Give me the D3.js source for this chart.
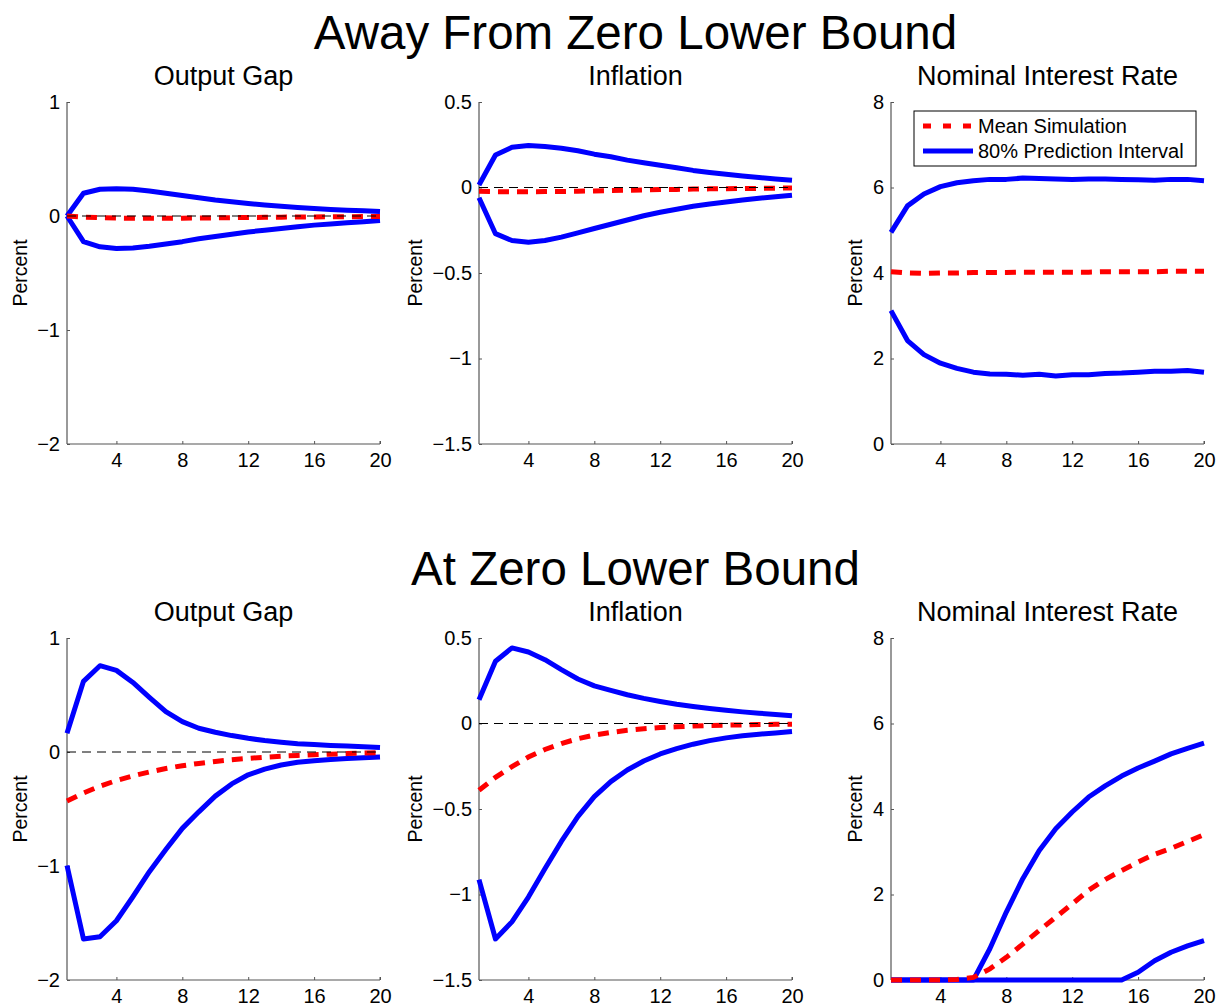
<!DOCTYPE html>
<html>
<head>
<meta charset="utf-8">
<script src="https://cdn.jsdelivr.net/npm/d3@7/dist/d3.min.js"></script>
<style>
  body { margin: 0; background: #fff; }
  svg { display: block; font-family: "Liberation Sans", Arial, Helvetica, sans-serif; }
</style>
</head>
<body>
<svg id="chart" width="1218" height="1007"></svg>
<script>
// ---------------- DATA ----------------
const periods = [1,2,3,4,5,6,7,8,9,10,11,12,13,14,15,16,17,18,19,20];
const xTickValues = [4, 8, 12, 16, 20];
const rowTitles = ["Away From Zero Lower Bound", "At Zero Lower Bound"];
const panelTitles = ["Output Gap", "Inflation", "Nominal Interest Rate"];
const yAxisLabel = "Percent";
const legendLabels = ["Mean Simulation", "80% Prediction Interval"];

const outputGapTicks = [-2, -1, 0, 1];
const inflationTicks = [-1.5, -1, -0.5, 0, 0.5];
const interestTicks = [0, 2, 4, 6, 8];

// Away from ZLB
const awayOutputMean  = [0, -0.01, -0.015, -0.018, -0.02, -0.02, -0.02, -0.019, -0.018, -0.016, -0.015, -0.013, -0.012, -0.01, -0.009, -0.008, -0.007, -0.006, -0.005, -0.004];
const awayOutputUpper = [0, 0.20, 0.235, 0.24, 0.235, 0.22, 0.20, 0.18, 0.16, 0.14, 0.125, 0.11, 0.097, 0.085, 0.075, 0.066, 0.058, 0.051, 0.045, 0.04];
const awayOutputLower = [0, -0.225, -0.27, -0.285, -0.28, -0.265, -0.245, -0.225, -0.2, -0.18, -0.16, -0.14, -0.125, -0.11, -0.095, -0.08, -0.07, -0.06, -0.05, -0.04];

const awayInflMean  = [-0.022, -0.024, -0.025, -0.025, -0.024, -0.023, -0.022, -0.02, -0.018, -0.016, -0.014, -0.012, -0.011, -0.009, -0.008, -0.007, -0.006, -0.005, -0.004, -0.003];
const awayInflUpper = [0.015, 0.19, 0.235, 0.245, 0.24, 0.23, 0.215, 0.195, 0.18, 0.16, 0.145, 0.13, 0.115, 0.1, 0.088, 0.077, 0.067, 0.058, 0.05, 0.043];
const awayInflLower = [-0.06, -0.27, -0.31, -0.32, -0.31, -0.29, -0.265, -0.24, -0.215, -0.19, -0.165, -0.145, -0.127, -0.11, -0.097, -0.085, -0.073, -0.063, -0.054, -0.045];

const awayRateMean  = [4.03, 4.0, 3.99, 4.0, 4.0, 4.01, 4.01, 4.01, 4.02, 4.02, 4.02, 4.02, 4.02, 4.03, 4.03, 4.03, 4.03, 4.04, 4.04, 4.04];
const awayRateUpper = [4.95, 5.57, 5.85, 6.02, 6.11, 6.16, 6.19, 6.19, 6.22, 6.21, 6.2, 6.19, 6.2, 6.2, 6.19, 6.18, 6.17, 6.19, 6.19, 6.16];
const awayRateLower = [3.12, 2.42, 2.09, 1.89, 1.77, 1.68, 1.64, 1.63, 1.61, 1.63, 1.59, 1.62, 1.62, 1.65, 1.66, 1.68, 1.70, 1.70, 1.72, 1.68];

// At ZLB
const zlbOutputMean  = [-0.43, -0.36, -0.30, -0.25, -0.21, -0.175, -0.145, -0.12, -0.1, -0.083, -0.068, -0.056, -0.046, -0.037, -0.03, -0.024, -0.019, -0.014, -0.01, -0.006];
const zlbOutputUpper = [0.165, 0.62, 0.757, 0.716, 0.61, 0.48, 0.355, 0.267, 0.208, 0.173, 0.144, 0.12, 0.1, 0.085, 0.073, 0.065, 0.058, 0.053, 0.047, 0.04];
const zlbOutputLower = [-0.995, -1.64, -1.62, -1.48, -1.27, -1.05, -0.856, -0.67, -0.525, -0.387, -0.28, -0.2, -0.15, -0.114, -0.09, -0.076, -0.065, -0.056, -0.05, -0.044];

const zlbInflMean  = [-0.39, -0.315, -0.252, -0.196, -0.152, -0.117, -0.089, -0.068, -0.052, -0.04, -0.031, -0.024, -0.019, -0.015, -0.012, -0.01, -0.008, -0.006, -0.005, -0.004];
const zlbInflUpper = [0.139, 0.364, 0.442, 0.418, 0.373, 0.315, 0.26, 0.22, 0.194, 0.168, 0.147, 0.129, 0.113, 0.1, 0.088, 0.078, 0.068, 0.06, 0.053, 0.045];
const zlbInflLower = [-0.913, -1.26, -1.16, -1.015, -0.85, -0.69, -0.545, -0.428, -0.34, -0.272, -0.219, -0.178, -0.147, -0.121, -0.1, -0.084, -0.072, -0.063, -0.055, -0.047];

const zlbRateMean  = [0, 0, 0, 0, 0.01, 0.06, 0.26, 0.53, 0.84, 1.16, 1.47, 1.78, 2.1, 2.35, 2.56, 2.76, 2.94, 3.08, 3.24, 3.4];
const zlbRateUpper = [0, 0, 0, 0, 0, 0, 0.73, 1.59, 2.37, 3.03, 3.54, 3.93, 4.28, 4.54, 4.77, 4.96, 5.12, 5.29, 5.42, 5.54];
const zlbRateLower = [0, 0, 0, 0, 0, 0, 0, 0, 0, 0, 0, 0, 0, 0, 0, 0.18, 0.45, 0.65, 0.8, 0.92];

// --------------- LAYOUT ---------------
const svg = d3.select("#chart");
const colX = [67, 479, 891];
const panelW = 313;
const rowY = [102, 638];
const panelH = 342;
const yLabelOffset = [-40, -57, -29];
const fmt = v => (v < 0 ? "\u2212" + String(Math.abs(v)) : String(v));

const panels = [
  { row: 0, col: 0, ticks: outputGapTicks, domain: [-2, 1], mean: awayOutputMean, up: awayOutputUpper, lo: awayOutputLower, zero: true },
  { row: 0, col: 1, ticks: inflationTicks, domain: [-1.5, 0.5], mean: awayInflMean, up: awayInflUpper, lo: awayInflLower, zero: true },
  { row: 0, col: 2, ticks: interestTicks, domain: [0, 8], mean: awayRateMean, up: awayRateUpper, lo: awayRateLower, zero: false, legend: true },
  { row: 1, col: 0, ticks: outputGapTicks, domain: [-2, 1], mean: zlbOutputMean, up: zlbOutputUpper, lo: zlbOutputLower, zero: true },
  { row: 1, col: 1, ticks: inflationTicks, domain: [-1.5, 0.5], mean: zlbInflMean, up: zlbInflUpper, lo: zlbInflLower, zero: true },
  { row: 1, col: 2, ticks: interestTicks, domain: [0, 8], mean: zlbRateMean, up: zlbRateUpper, lo: zlbRateLower, zero: false }
];

const rowTitleBaselines = [49, 585];
rowTitles.forEach((t, i) => {
  svg.append("text")
    .attr("x", (colX[0] + colX[2] + panelW) / 2)
    .attr("y", rowTitleBaselines[i])
    .attr("text-anchor", "middle")
    .attr("font-size", 47.5)
    .attr("fill", "#000")
    .text(t);
});

panels.forEach(p => {
  const x0 = colX[p.col], y0 = rowY[p.row];
  const g = svg.append("g").attr("transform", `translate(${x0},${y0})`);
  const x = d3.scaleLinear().domain([1, 20]).range([0, panelW]);
  const y = d3.scaleLinear().domain(p.domain).range([panelH, 0]);

  g.append("text")
    .attr("x", panelW / 2)
    .attr("y", -17)
    .attr("text-anchor", "middle")
    .attr("font-size", 27)
    .attr("fill", "#000")
    .text(panelTitles[p.col]);

  const yAxis = d3.axisLeft(y).tickValues(p.ticks).tickSize(-3).tickPadding(7).tickFormat(fmt);
  const gy = g.append("g").call(yAxis);
  const xAxis = d3.axisBottom(x).tickValues(xTickValues).tickSize(-3).tickPadding(9).tickFormat(d => String(d));
  const gx = g.append("g").attr("transform", `translate(0,${panelH})`).call(xAxis);
  [gx, gy].forEach(a => {
    a.attr("font-family", '"Liberation Sans", Arial, sans-serif').attr("font-size", 20);
    a.select(".domain").attr("stroke", "#555").attr("stroke-width", 1.2);
    a.selectAll(".tick line").attr("stroke", "#555").attr("stroke-width", 1);
    a.selectAll(".tick text").attr("font-size", 20).attr("fill", "#000");
  });
  gx.select(".domain").attr("d", `M0,0H${panelW}`);
  gy.select(".domain").attr("d", `M0,${panelH}V0`);
  g.append("line").attr("x1", panelW).attr("x2", panelW)
    .attr("y1", panelH).attr("y2", panelH - 3).attr("stroke", "#555");

  g.append("text")
    .attr("transform", `translate(${yLabelOffset[p.col]},${panelH / 2}) rotate(-90)`)
    .attr("text-anchor", "middle")
    .attr("font-size", 19.5)
    .attr("fill", "#000")
    .text(yAxisLabel);

  const line = d3.line().x((d, i) => x(periods[i])).y(d => y(d));

  g.append("path").datum(p.up).attr("d", line)
    .attr("fill", "none").attr("stroke", "#0000ff").attr("stroke-width", 5)
    .attr("stroke-linejoin", "round");
  g.append("path").datum(p.lo).attr("d", line)
    .attr("fill", "none").attr("stroke", "#0000ff").attr("stroke-width", 5)
    .attr("stroke-linejoin", "round");
  g.append("path").datum(p.mean).attr("d", line)
    .attr("fill", "none").attr("stroke", "#ff0000").attr("stroke-width", 5)
    .attr("stroke-dasharray", "11,8");

  if (p.zero) {
    g.append("line")
      .attr("x1", x(1)).attr("x2", x(20))
      .attr("y1", y(0)).attr("y2", y(0))
      .attr("stroke", "#000").attr("stroke-width", 1)
      .attr("stroke-dasharray", "9,6");
  }

  if (p.legend) {
    const lg = svg.append("g").attr("transform", "translate(914,111)");
    lg.append("rect").attr("width", 282).attr("height", 55)
      .attr("fill", "#fff").attr("stroke", "#000").attr("stroke-width", 1);
    lg.append("line").attr("x1", 9).attr("x2", 59).attr("y1", 15).attr("y2", 15)
      .attr("stroke", "#ff0000").attr("stroke-width", 5).attr("stroke-dasharray", "8,12");
    lg.append("line").attr("x1", 9).attr("x2", 59).attr("y1", 40).attr("y2", 40)
      .attr("stroke", "#0000ff").attr("stroke-width", 5);
    legendLabels.forEach((t, i) => {
      lg.append("text").attr("x", 64).attr("y", 15 + i * 25).attr("dy", "0.35em")
        .attr("font-size", 20).attr("fill", "#000").text(t);
    });
  }
});
</script>
</body>
</html>
